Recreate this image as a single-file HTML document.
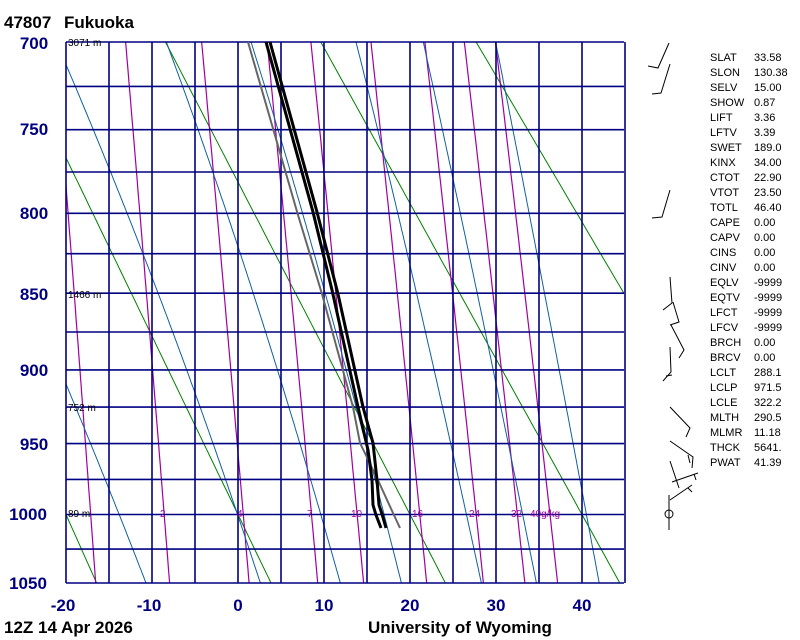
<!DOCTYPE html>
<html><head><meta charset="utf-8"><style>
body{margin:0;background:#fff;width:800px;height:640px;overflow:hidden;font-family:"Liberation Sans",sans-serif}
svg{position:absolute;left:0;top:0}
</style></head><body>
<svg id="s" width="800" height="640" xmlns="http://www.w3.org/2000/svg">
<defs><clipPath id="c"><rect x="66" y="42" width="558" height="541"/></clipPath></defs>
<g id="g" clip-path="url(#c)"></g>
<g id="grid"></g>
<g id="snd" clip-path="url(#c)" fill="none" stroke-linejoin="round">
<polyline stroke="#666" stroke-width="2" points="248,42 298,215 322,294 353,407 360,443 377,478 393,513 400,528"/>
<polyline stroke="#000" stroke-width="3" points="266,42 313,212 332,290 358,407 368,450 372,480 373,505 376,515 381,528"/>
<polyline stroke="#000" stroke-width="3" points="270,42 317,212 338,294 363,407 373,443 377,480 379,505 382,514 386,528"/>
</g>
<g font-weight="bold" font-size="17" fill="#000">
<text x="4" y="28">47807</text><text x="64" y="28">Fukuoka</text>
<text x="4" y="633">12Z 14 Apr 2026</text>
<text x="368" y="633">University of Wyoming</text>
</g>
<g font-weight="bold" font-size="17" fill="#000080" text-anchor="middle">
<text x="34" y="49">700</text><text x="34" y="135">750</text><text x="34" y="219">800</text>
<text x="34" y="300">850</text><text x="34" y="376">900</text><text x="34" y="450">950</text>
<text x="28" y="520">1000</text><text x="28" y="589">1050</text>
<text x="63" y="611">-20</text><text x="149" y="611">-10</text><text x="238" y="611">0</text>
<text x="324" y="611">10</text><text x="410" y="611">20</text><text x="496" y="611">30</text><text x="582" y="611">40</text>
</g>
<g font-size="10" fill="#000">
<text x="68" y="46">3071 m</text><text x="68" y="298">1466 m</text><text x="68" y="411">752 m</text><text x="68" y="517">89 m</text>
</g>
<g font-size="10" fill="#a000a0">
<text x="160" y="517">2</text><text x="237" y="517">4</text><text x="307" y="517">7</text><text x="351" y="517">10</text>
<text x="412" y="517">16</text><text x="469" y="517">24</text><text x="511" y="517">32</text><text x="530" y="517">40g/kg</text>
</g>
<g font-size="11" fill="#000" id="st"></g>
<g stroke="#000" stroke-width="1" fill="none">
<path d="M669,43L658,68L648,66M670,64L661,93L652,94M670,190L662,217L652,218"/>
<path d="M670,277L672,303L663,310M673,302L679,322L670,325M671,325L684,350L679,358M670,347L671,372L663,381M672,375L666,376"/>
<path d="M670,407L690,428L686,437M670,441L693,457L692,468M688,455L690,463M670,461L679,488M672,482L698,473M694,474L696,480M670,500L692,485M688,488L692,492M669,495L669,530"/>
<circle cx="669" cy="514" r="4"/>
</g>
</svg>
<script>
var NS="http://www.w3.org/2000/svg";
var a0=Math.pow(700,.286),a1=Math.pow(1050,.286);
function Y(p){return 42+(Math.pow(p,.286)-a0)/(a1-a0)*541}
function X(t){return 238+8.6*t}
var g=document.getElementById('g'),gr=document.getElementById('grid');
function pl(par,pts,col,w){var e=document.createElementNS(NS,'polyline');e.setAttribute('points',pts.map(function(q){return q[0].toFixed(1)+','+q[1].toFixed(1)}).join(' '));e.setAttribute('fill','none');e.setAttribute('stroke',col);e.setAttribute('stroke-width',w);par.appendChild(e)}
[253.15,273.15,293.15,313.15,333.15,353.15].forEach(function(th){var pts=[];for(var p=650;p<=1060;p+=5){pts.push([X(th*Math.pow(p/1000,.286)-273.15),Y(p)])}pl(g,pts,'#008000',1)});
function es(t){return 6.112*Math.exp(17.67*t/(t+243.5))}
function tdw(w,p){var e=w*p/(622+w);var l=Math.log(e/6.112);return 243.5*l/(17.67-l)}
[1,2,4,7,10,16,24,32,40].forEach(function(w){var pts=[];for(var p=650;p<=1060;p+=5){pts.push([X(tdw(w,p)),Y(p)])}pl(g,pts,'#a000a0',1.2)});
[-24,-10.7,2.6,11.9,19.0,28.3,34.7,42].forEach(function(t0){var pts=[],t=t0,p=1050;pts.push([X(t),Y(p)]);while(p>650){var T=t+273.15,e=es(t),rs=0.622*e/(p-e);var d=(287*T+2.5e6*rs)/(p*(1005+2.5e6*2.5e6*rs*0.622/(287*T*T)));t-=d*2;p-=2;pts.push([X(t)-10*(1050-p)/350,Y(p)])}pl(g,pts,'#1060a0',1)});
for(var k=0;k<=13;k++){var x=66+43*k;pl(gr,[[x,42],[x,583]],'#000080',1.6)}
for(var p=700;p<=1050;p+=25){var y=Y(p);pl(gr,[[66,y],[624,y]],'#000080',1.6)}
var S=[["SLAT","33.58"],["SLON","130.38"],["SELV","15.00"],["SHOW","0.87"],["LIFT","3.36"],["LFTV","3.39"],["SWET","189.0"],["KINX","34.00"],["CTOT","22.90"],["VTOT","23.50"],["TOTL","46.40"],["CAPE","0.00"],["CAPV","0.00"],["CINS","0.00"],["CINV","0.00"],["EQLV","-9999"],["EQTV","-9999"],["LFCT","-9999"],["LFCV","-9999"],["BRCH","0.00"],["BRCV","0.00"],["LCLT","288.1"],["LCLP","971.5"],["LCLE","322.2"],["MLTH","290.5"],["MLMR","11.18"],["THCK","5641."],["PWAT","41.39"]];
var st=document.getElementById('st');S.forEach(function(r,i){var y=61+15*i;[[710,r[0]],[754,r[1]]].forEach(function(c){var e=document.createElementNS(NS,'text');e.setAttribute('x',c[0]);e.setAttribute('y',y);e.textContent=c[1];st.appendChild(e)})});
</script>
</body></html>
